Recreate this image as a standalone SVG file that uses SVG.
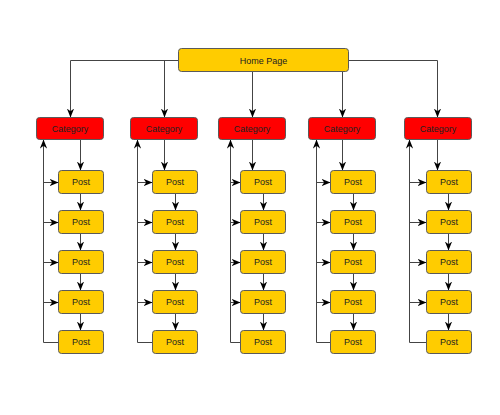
<svg xmlns="http://www.w3.org/2000/svg" width="500" height="415" viewBox="0 0 500 415">
<defs>
<marker id="arr" viewBox="0 0 10 8" markerWidth="9" markerHeight="7.5" refX="10" refY="4" orient="auto" markerUnits="userSpaceOnUse">
<path d="M0,0 L10,4 L0,8 L3,4 z" fill="#000"/>
</marker>
<style>
.home,.post{fill:#FFCC00;stroke:#5a5a5a;stroke-width:1}
.cat{fill:#FF0000;stroke:#5a5a5a;stroke-width:1}
text{font-family:"Liberation Sans",Arial,sans-serif;font-size:9px;text-anchor:middle;dominant-baseline:central;fill:#222}
.c path,.c line{fill:none;stroke:#444;stroke-width:1}
.a{marker-end:url(#arr)}
</style>
</defs>
<rect width="500" height="415" fill="#fff"/>
<g class="c" id="connectors">
<path d="M178.5,60.5 H70.5 V117.5" class="a"/>
<path d="M164.5,60.5 V117.5" class="a"/>
<path d="M252.5,71.5 V117.5" class="a"/>
<path d="M342.5,71.5 V117.5" class="a"/>
<path d="M348.5,60.5 H437.5 V117.5" class="a"/>
<!-- col1 -->
<path d="M80.5,139.5 V170.5" class="a"/>
<path d="M80.5,193.5 V210.5" class="a"/>
<path d="M80.5,233.5 V250.5" class="a"/>
<path d="M80.5,273.5 V290.5" class="a"/>
<path d="M80.5,313.5 V330.5" class="a"/>
<path d="M58.5,342.5 H43.5 V139.5" class="a"/>
<path d="M43.5,182.5 H58.5" class="a"/>
<path d="M43.5,222.5 H58.5" class="a"/>
<path d="M43.5,262.5 H58.5" class="a"/>
<path d="M43.5,302.5 H58.5" class="a"/>
<!-- col2 -->
<path d="M164.5,139.5 V170.5" class="a"/>
<path d="M175.5,193.5 V210.5" class="a"/>
<path d="M175.5,233.5 V250.5" class="a"/>
<path d="M175.5,273.5 V290.5" class="a"/>
<path d="M175.5,313.5 V330.5" class="a"/>
<path d="M152.5,342.5 H137.5 V139.5" class="a"/>
<path d="M137.5,182.5 H152.5" class="a"/>
<path d="M137.5,222.5 H152.5" class="a"/>
<path d="M137.5,262.5 H152.5" class="a"/>
<path d="M137.5,302.5 H152.5" class="a"/>
<!-- col3 -->
<path d="M252.5,139.5 V170.5" class="a"/>
<path d="M263.5,193.5 V210.5" class="a"/>
<path d="M263.5,233.5 V250.5" class="a"/>
<path d="M263.5,273.5 V290.5" class="a"/>
<path d="M263.5,313.5 V330.5" class="a"/>
<path d="M240.5,342.5 H230.5 V139.5" class="a"/>
<path d="M230.5,182.5 H240.5" class="a"/>
<path d="M230.5,222.5 H240.5" class="a"/>
<path d="M230.5,262.5 H240.5" class="a"/>
<path d="M230.5,302.5 H240.5" class="a"/>
<!-- col4 -->
<path d="M342.5,139.5 V170.5" class="a"/>
<path d="M353.5,193.5 V210.5" class="a"/>
<path d="M353.5,233.5 V250.5" class="a"/>
<path d="M353.5,273.5 V290.5" class="a"/>
<path d="M353.5,313.5 V330.5" class="a"/>
<path d="M330.5,342.5 H316.5 V139.5" class="a"/>
<path d="M316.5,182.5 H330.5" class="a"/>
<path d="M316.5,222.5 H330.5" class="a"/>
<path d="M316.5,262.5 H330.5" class="a"/>
<path d="M316.5,302.5 H330.5" class="a"/>
<!-- col5 -->
<path d="M437.5,139.5 V170.5" class="a"/>
<path d="M448.5,193.5 V210.5" class="a"/>
<path d="M448.5,233.5 V250.5" class="a"/>
<path d="M448.5,273.5 V290.5" class="a"/>
<path d="M448.5,313.5 V330.5" class="a"/>
<path d="M426.5,342.5 H409.5 V139.5" class="a"/>
<path d="M409.5,182.5 H426.5" class="a"/>
<path d="M409.5,222.5 H426.5" class="a"/>
<path d="M409.5,262.5 H426.5" class="a"/>
<path d="M409.5,302.5 H426.5" class="a"/>
</g>
<g id="home"><rect class="home" x="178.5" y="48.5" width="170" height="23" rx="3"/><text x="263.5" y="60.5">Home Page</text></g>
<g id="cat1"><rect class="cat" x="36.5" y="117.5" width="67" height="22" rx="3"/><text x="70" y="128.5">Category</text></g>
<g id="cat2"><rect class="cat" x="130.5" y="117.5" width="67" height="22" rx="3"/><text x="164" y="128.5">Category</text></g>
<g id="cat3"><rect class="cat" x="218.5" y="117.5" width="67" height="22" rx="3"/><text x="252" y="128.5">Category</text></g>
<g id="cat4"><rect class="cat" x="308.5" y="117.5" width="67" height="22" rx="3"/><text x="342" y="128.5">Category</text></g>
<g id="cat5"><rect class="cat" x="404.5" y="117.5" width="67" height="22" rx="3"/><text x="438" y="128.5">Category</text></g>
<g id="c1p1"><rect class="post" x="58.5" y="170.5" width="45" height="23" rx="3"/><text x="81" y="182">Post</text></g>
<g id="c1p2"><rect class="post" x="58.5" y="210.5" width="45" height="23" rx="3"/><text x="81" y="222">Post</text></g>
<g id="c1p3"><rect class="post" x="58.5" y="250.5" width="45" height="23" rx="3"/><text x="81" y="262">Post</text></g>
<g id="c1p4"><rect class="post" x="58.5" y="290.5" width="45" height="23" rx="3"/><text x="81" y="302">Post</text></g>
<g id="c1p5"><rect class="post" x="58.5" y="330.5" width="45" height="23" rx="3"/><text x="81" y="342">Post</text></g>
<g id="c2p1"><rect class="post" x="152.5" y="170.5" width="45" height="23" rx="3"/><text x="175" y="182">Post</text></g>
<g id="c2p2"><rect class="post" x="152.5" y="210.5" width="45" height="23" rx="3"/><text x="175" y="222">Post</text></g>
<g id="c2p3"><rect class="post" x="152.5" y="250.5" width="45" height="23" rx="3"/><text x="175" y="262">Post</text></g>
<g id="c2p4"><rect class="post" x="152.5" y="290.5" width="45" height="23" rx="3"/><text x="175" y="302">Post</text></g>
<g id="c2p5"><rect class="post" x="152.5" y="330.5" width="45" height="23" rx="3"/><text x="175" y="342">Post</text></g>
<g id="c3p1"><rect class="post" x="240.5" y="170.5" width="45" height="23" rx="3"/><text x="263" y="182">Post</text></g>
<g id="c3p2"><rect class="post" x="240.5" y="210.5" width="45" height="23" rx="3"/><text x="263" y="222">Post</text></g>
<g id="c3p3"><rect class="post" x="240.5" y="250.5" width="45" height="23" rx="3"/><text x="263" y="262">Post</text></g>
<g id="c3p4"><rect class="post" x="240.5" y="290.5" width="45" height="23" rx="3"/><text x="263" y="302">Post</text></g>
<g id="c3p5"><rect class="post" x="240.5" y="330.5" width="45" height="23" rx="3"/><text x="263" y="342">Post</text></g>
<g id="c4p1"><rect class="post" x="330.5" y="170.5" width="45" height="23" rx="3"/><text x="353" y="182">Post</text></g>
<g id="c4p2"><rect class="post" x="330.5" y="210.5" width="45" height="23" rx="3"/><text x="353" y="222">Post</text></g>
<g id="c4p3"><rect class="post" x="330.5" y="250.5" width="45" height="23" rx="3"/><text x="353" y="262">Post</text></g>
<g id="c4p4"><rect class="post" x="330.5" y="290.5" width="45" height="23" rx="3"/><text x="353" y="302">Post</text></g>
<g id="c4p5"><rect class="post" x="330.5" y="330.5" width="45" height="23" rx="3"/><text x="353" y="342">Post</text></g>
<g id="c5p1"><rect class="post" x="426.5" y="170.5" width="45" height="23" rx="3"/><text x="449" y="182">Post</text></g>
<g id="c5p2"><rect class="post" x="426.5" y="210.5" width="45" height="23" rx="3"/><text x="449" y="222">Post</text></g>
<g id="c5p3"><rect class="post" x="426.5" y="250.5" width="45" height="23" rx="3"/><text x="449" y="262">Post</text></g>
<g id="c5p4"><rect class="post" x="426.5" y="290.5" width="45" height="23" rx="3"/><text x="449" y="302">Post</text></g>
<g id="c5p5"><rect class="post" x="426.5" y="330.5" width="45" height="23" rx="3"/><text x="449" y="342">Post</text></g>
</svg>
